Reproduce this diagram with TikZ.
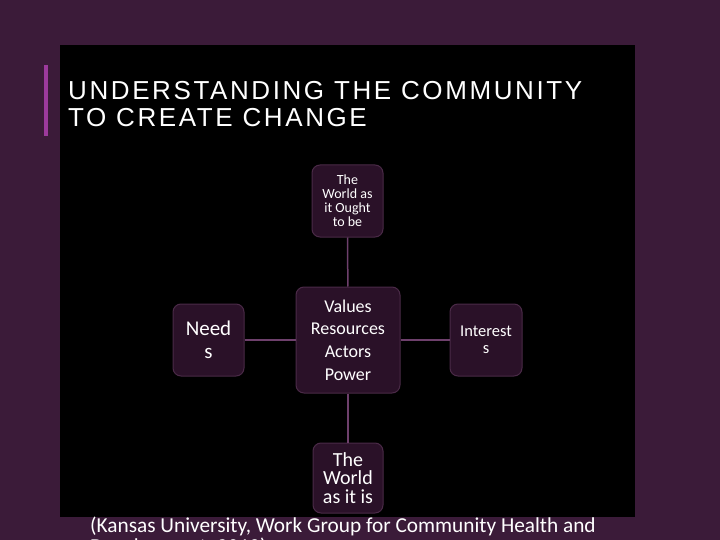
\documentclass[tikz,border=0pt]{standalone}
\usepackage{fontspec}
\setmainfont{Carlito}
\newfontfamily\titlefont[LetterSpace=10]{Liberation Sans}

\definecolor{slidebg}{HTML}{3B1B39}
\definecolor{accentbar}{HTML}{9C3A9C}
\definecolor{boxfill}{HTML}{2A1128}
\definecolor{boxedge}{HTML}{4A2A47}
\definecolor{linkcol}{HTML}{6E406C}

\begin{document}
\begin{tikzpicture}[x=1pt, y=-1pt,
    box/.style={draw=boxedge, fill=boxfill, line width=1pt, rounded corners=8pt,
                text=white, align=center, inner sep=0pt},
    link/.style={draw=linkcol, line width=1.5pt}]

    % Draw Slide
    \clip (0,0) rectangle (720,540);
    \fill[slidebg] (0,0) rectangle (720,540);                        % Purple Background
    \fill[black] (60,45) rectangle (635,517);                        % Black Panel
    \fill[accentbar] (44,65) rectangle (48,136);                     % Accent Bar

    % Draw Title
    \node[anchor=north west, inner sep=0pt, text=white, align=left,
          font=\titlefont\fontsize{26}{27}\selectfont] (title) at (68,81)
        {UNDERSTANDING THE COMMUNITY\\TO CREATE CHANGE};

    % Draw Boxes
    \node[box, minimum width=71pt, minimum height=72pt,
          font=\fontsize{14}{14}\selectfont] (ought) at (347.5,201)
        {The\\World as\\it Ought\\to be};
    \node[box, minimum width=104pt, minimum height=106pt,
          font=\fontsize{18}{22.7}\selectfont] (core) at (348,340)
        {Values\\Resources\\Actors\\Power};
    \node[box, minimum width=71pt, minimum height=72pt,
          font=\fontsize{21}{23}\selectfont] (needs) at (208.5,340)
        {Need\\s};
    \node[box, minimum width=72pt, minimum height=72pt,
          font=\fontsize{16.5}{17}\selectfont] (interests) at (486,340)
        {Interest\\s};
    \node[box, minimum width=70pt, minimum height=70pt,
          font=\fontsize{20}{18.5}\selectfont] (isnow) at (348,478)
        {The\\World\\as it is};

    % Draw Links
    \draw[link] (ought) -- (core);
    \draw[link] (core) -- (isnow);
    \draw[link] (needs) -- (core);
    \draw[link] (core) -- (interests);

    % Draw Source
    \node[anchor=base west, inner sep=0pt, text=white,
          font=\fontsize{21.3}{22}\selectfont] (cite) at (90,532)
        {(Kansas University, Work Group for Community Health and};
    \node[anchor=base west, inner sep=0pt, text=white,
          font=\fontsize{21.3}{22}\selectfont] (citeend) at (90,553)
        {Development, 2010)};
\end{tikzpicture}
\end{document}
